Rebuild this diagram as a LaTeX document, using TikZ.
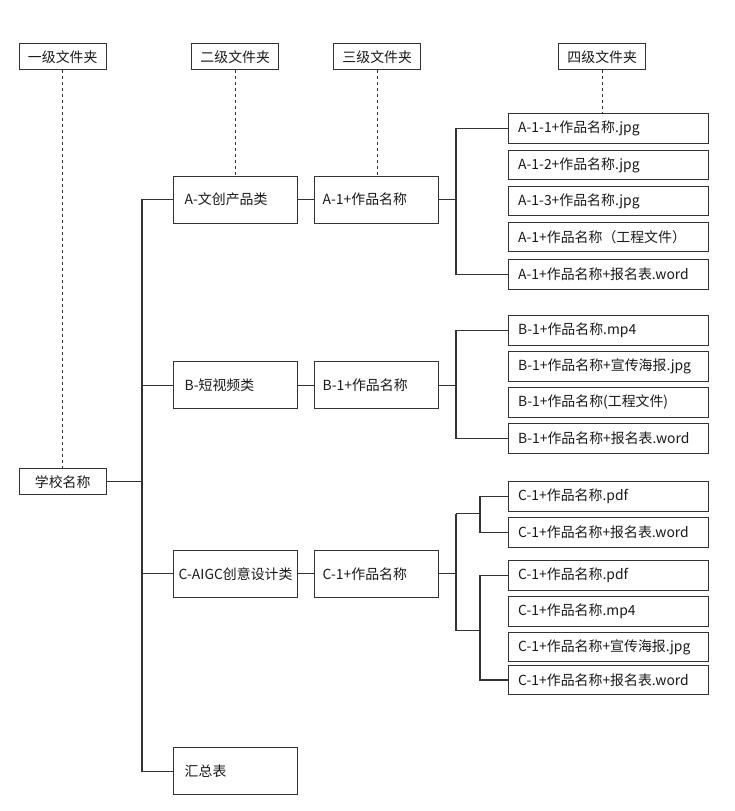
\documentclass[tikz,border=0pt]{standalone}
\usepackage{fontspec}
\setmainfont{Noto Sans CJK SC}
\definecolor{linec}{HTML}{333333}
\definecolor{txtc}{HTML}{1A1A1A}
\begin{document}
\begin{tikzpicture}[x=1pt,y=-1pt,
  base/.style={draw=linec, line width=1.4pt, fill=white, inner ysep=0pt, anchor=north west, text=txtc, font=\fontsize{13.9pt}{16pt}\selectfont},
  hdr/.style={base, inner xsep=0pt, minimum width=87pt, minimum height=26pt},
  lvtwo/.style={base, inner xsep=11pt, text width=102pt, align=left, minimum height=47pt},
  lvthree/.style={base, inner xsep=8pt, text width=108pt, align=left, minimum height=47pt},
  lvfour/.style={base, inner xsep=10pt, text width=180pt, align=left, minimum height=29.5pt},
  conn/.style={draw=linec, line width=1.4pt},
  guide/.style={draw=linec, line width=1.3pt, dash pattern=on 3pt off 3pt}
]
\useasboundingbox (0,0) rectangle (734,811);

% headers
\node[hdr] (h1) at (18.5,43) {一级文件夹};
\node[hdr] (h2) at (191,43) {二级文件夹};
\node[hdr] (h3) at (333,43) {三级文件夹};
\node[hdr] (h4) at (558,43) {四级文件夹};

% level 1
\node[hdr] (school) at (18.5,468) {学校名称};

% level 2
\node[lvtwo] (A) at (173,175.5) {A-文创产品类};
\node[lvtwo] (B) at (173,361) {B-短视频类};
\node[lvtwo, inner xsep=5pt, text width=114pt] (C) at (173,549.5) {\mbox{C-AIGC创意设计类}};
\node[lvtwo] (S) at (173,747) {汇总表};

% level 3
\node[lvthree] (A1) at (314,175.5) {A-1+作品名称};
\node[lvthree] (B1) at (314,361) {B-1+作品名称};
\node[lvthree] (C1) at (314,549.5) {C-1+作品名称};

% level 4 - A
\node[lvfour] (fa1) at (507.5,113) {A-1-1+作品名称.jpg};
\node[lvfour] (fa2) at (507.5,149.5) {A-1-2+作品名称.jpg};
\node[lvfour] (fa3) at (507.5,185.5) {A-1-3+作品名称.jpg};
\node[lvfour] (fa4) at (507.5,221.5) {A-1+作品名称（工程文件）};
\node[lvfour] (fa5) at (507.5,259) {A-1+作品名称+报名表.word};

% level 4 - B
\node[lvfour] (fb1) at (507.5,315) {B-1+作品名称.mp4};
\node[lvfour] (fb2) at (507.5,351) {B-1+作品名称+宣传海报.jpg};
\node[lvfour] (fb3) at (507.5,387) {B-1+作品名称(工程文件)};
\node[lvfour] (fb4) at (507.5,423) {B-1+作品名称+报名表.word};

% level 4 - C
\node[lvfour] (fc1) at (507.5,481) {C-1+作品名称.pdf};
\node[lvfour] (fc2) at (507.5,517) {C-1+作品名称+报名表.word};
\node[lvfour] (fc3) at (507.5,560) {C-1+作品名称.pdf};
\node[lvfour] (fc4) at (507.5,596) {C-1+作品名称.mp4};
\node[lvfour] (fc5) at (507.5,631.5) {C-1+作品名称+宣传海报.jpg};
\node[lvfour] (fc6) at (507.5,664.5) {C-1+作品名称+报名表.word};

% guides
\draw[guide] (h1.south) -- (school.north);
\draw[guide] (h2.south) -- (h2.south |- A.north);
\draw[guide] (h3.south) -- (h3.south |- A1.north);
\draw[guide] (h4.south) -- (h4.south |- fa1.north);

% trunk
\coordinate (tx) at (142,0);
\draw[conn] (school.east) -- (school.east -| tx);
\draw[conn] (A.west) -- (A.west -| tx) |- (S.west);
\draw[conn] (B.west) -- (B.west -| tx);
\draw[conn] (C.west) -- (C.west -| tx);

% level 2 -> 3
\draw[conn] (A.east) -- (A1.west);
\draw[conn] (B.east) -- (B1.west);
\draw[conn] (C.east) -- (C1.west);

% brackets
\coordinate (bx) at (456,0);
\coordinate (sx) at (480,0);
\draw[conn] (A1.east) -- (A1.east -| bx);
\draw[conn] (fa1.west) -| (A1.east -| bx) |- (fa5.west);

\draw[conn] (B1.east) -- (B1.east -| bx);
\draw[conn] (fb1.west) -| (B1.east -| bx) |- (fb4.west);

\coordinate (jc1) at (456,513.5);
\coordinate (jc2) at (456,630.5);
\draw[conn] (C1.east) -- (C1.east -| bx);
\draw[conn] (jc1) -- (jc2);
\draw[conn] (jc1) -- (jc1 -| sx);
\draw[conn] (jc2) -- (jc2 -| sx);
\draw[conn] (fc1.west) -| (jc1 -| sx) |- (fc2.west);
\draw[conn] (fc3.west) -| (jc2 -| sx) |- (fc6.west);
\end{tikzpicture}
\end{document}
